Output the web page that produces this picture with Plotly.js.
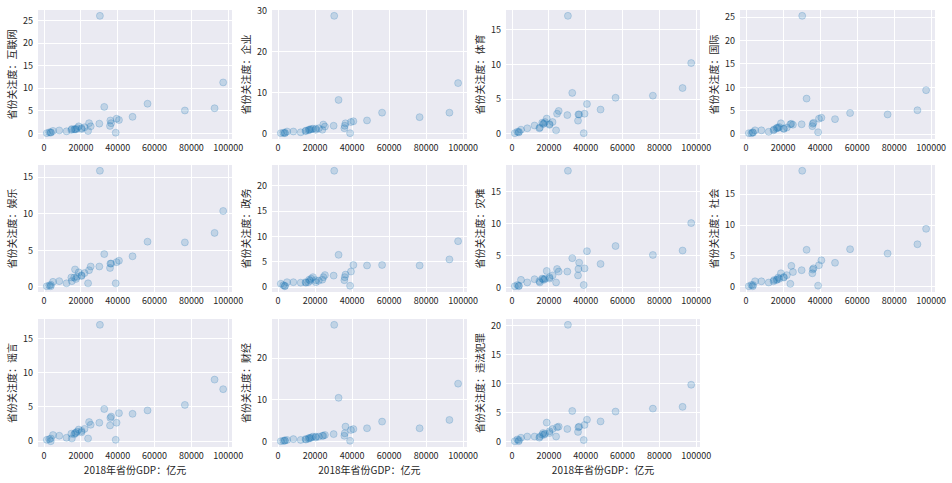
<!DOCTYPE html>
<html><head><meta charset="utf-8">
<script src="https://cdn.plot.ly/plotly-3.0.1.min.js"></script>
<style>html,body{margin:0;padding:0;background:#fff;}#chart{width:952px;height:483px;}</style>
</head><body><div id="chart"></div>
<script>
const provinces = ["广东","江苏","山东","浙江","河南","四川","湖北","台湾","湖南","河北","福建","上海","北京","安徽","辽宁","陕西","香港","江西","重庆","广西","天津","云南","内蒙古","山西","黑龙江","吉林","贵州","新疆","甘肃","海南","宁夏","澳门","青海","西藏"];
const gdp = [97278,92595,76470,56197,48056,40678,39367,38900,36426,36010,35804,32680,30320,30007,25315,24438,23900,21985,20363,20353,18810,17881,17289,16818,16362,15075,14806,12199,8246,4832,3705,3600,2865,1478];
const categories = ["互联网","企业","体育","国际","娱乐","政务","灾难","社会","谣言","财经","违法犯罪"];
const internet = [11.3,5.6,5.1,6.6,3.7,3.0,3.3,0.2,2.3,2.9,1.7,5.9,26.0,2.2,1.6,2.3,0.6,1.4,1.2,1.0,1.6,1.2,0.9,1.0,0.9,1.0,0.8,0.5,0.7,0.6,0.3,0.2,0.3,0.1];
const enterprise = [12.4,5.2,4.1,5.2,3.3,3.1,2.9,0.2,2.6,2.0,1.4,8.3,28.8,2.0,1.8,2.3,1.0,1.4,1.3,1.0,1.3,1.2,1.0,1.1,0.9,0.8,0.7,0.4,0.6,0.6,0.3,0.2,0.3,0.2];
const sports = [10.2,6.6,5.5,5.2,3.5,4.3,2.9,0.1,2.8,2.8,1.9,5.9,17.0,2.7,3.3,2.9,0.5,1.7,1.4,1.3,2.2,1.7,1.5,1.4,1.6,0.9,0.8,1.2,0.8,0.6,0.3,0.2,0.3,0.1];
const international = [9.4,5.1,4.2,4.5,3.2,3.5,3.3,0.4,2.4,2.2,1.7,7.6,25.3,2.1,2.0,2.2,2.1,1.4,1.1,1.2,2.3,1.5,1.3,1.4,1.2,1.0,0.8,0.5,0.8,0.8,0.3,0.4,0.2,0.2];
const entertainment = [10.4,7.4,6.1,6.2,4.2,3.6,3.4,0.5,3.2,3.2,2.6,4.5,15.9,2.8,2.8,2.3,0.5,1.9,1.6,1.5,2.0,1.4,1.1,2.4,1.3,0.8,1.3,0.5,0.8,0.7,0.3,0.1,0.2,0.1];
const government = [9.1,5.5,4.3,4.4,4.3,4.4,3.1,0.3,2.5,2.0,1.4,6.4,23.0,2.3,2.4,2.0,1.5,1.3,1.0,1.4,2.0,1.7,1.3,1.5,1.0,0.9,1.0,0.9,1.0,1.0,0.3,0.2,0.4,0.7];
const disaster = [10.1,5.8,5.1,6.5,3.7,5.7,3.0,0.4,3.9,2.9,1.9,4.6,18.3,2.5,2.5,2.9,0.8,1.9,1.6,1.4,2.6,1.4,1.2,1.3,1.4,0.8,1.0,1.3,0.8,1.2,0.3,0.2,0.4,0.2];
const society = [9.4,6.9,5.4,6.1,3.9,4.3,3.5,0.2,3.0,2.8,2.2,6.0,18.8,2.7,2.4,3.4,0.5,1.9,1.6,1.5,2.2,1.3,1.5,1.2,1.1,1.1,0.9,0.7,0.9,0.9,0.3,0.1,0.3,0.1];
const rumor = [7.6,9.0,5.3,4.5,4.0,4.1,2.7,0.2,3.6,3.4,2.3,4.7,17.0,2.7,2.4,2.8,0.4,1.8,1.5,1.3,1.7,1.4,1.2,1.2,1.0,0.4,1.1,0.5,0.8,0.9,0.4,0.0,0.3,0.2];
const finance = [13.9,5.2,3.2,4.8,3.2,3.0,2.8,0.2,3.6,2.0,1.4,10.5,28.0,1.8,1.6,1.4,1.4,1.2,1.2,1.0,1.2,1.0,0.8,0.9,0.7,0.5,0.6,0.4,0.6,0.4,0.3,0.2,0.2,0.1];
const crime = [9.8,6.0,5.7,5.2,3.5,3.8,2.9,0.3,2.6,2.5,1.7,5.3,20.1,2.2,2.6,2.5,0.9,2.2,1.8,1.5,3.3,1.4,1.2,1.5,1.2,0.9,0.7,0.9,0.9,0.7,0.3,0.1,0.4,0.1];
const series = [internet,enterprise,sports,international,entertainment,government,disaster,society,rumor,finance,crime];
const yDticks = [5,10,5,5,5,5,5,5,5,10,5];
const xTitle = "2018年省份GDP：亿元";
const yTitlePrefix = "省份关注度：";

const colDom = [[0.0399,0.2437],[0.2857,0.4905],[0.5315,0.7353],[0.7773,0.9821]];
const rowDom = [[0.7122,0.9793],[0.3954,0.6584],[0.0745,0.3395]];
const font = "Noto Sans CJK SC, DejaVu Sans, sans-serif";
function pad(arr){const mn=Math.min(...arr),mx=Math.max(...arr),s=mx-mn;return [mn-0.05*s,mx+0.05*s];}
const xr = pad(gdp);
const traces=[]; const layout={
  width:952,height:483,margin:{l:0,r:0,t:0,b:0},paper_bgcolor:"#fff",plot_bgcolor:"#EAEAF2",
  showlegend:false,font:{family:font,size:9,color:"#262626"}
};
series.forEach((ys,i)=>{
  const r=Math.floor(i/4), c=i%4, n=i+1;
  const xa = n===1?"x":"x"+n, ya = n===1?"y":"y"+n;
  traces.push({type:"scatter",mode:"markers",x:gdp,y:ys,text:provinces,xaxis:xa,yaxis:ya,
    marker:{size:7,color:"rgba(31,119,180,0.2)",line:{width:1,color:"rgba(31,119,180,0.22)"}},hoverinfo:"text+x+y"});
  const xk = n===1?"xaxis":"xaxis"+n, yk = n===1?"yaxis":"yaxis"+n;
  layout[xk]={domain:colDom[c],anchor:ya,range:xr,dtick:20000,tick0:0,showgrid:true,gridcolor:"#fff",gridwidth:1,
    zeroline:false,showline:false,ticks:"",tickfont:{size:9,family:font,color:"#262626"},tickformat:"d",ticklabelstandoff:2,
    title: r===2?{text:xTitle,font:{size:10,family:font,color:"#262626"},standoff:4}:{text:""}};
  layout[yk]={domain:rowDom[r],anchor:xa,range:pad(ys),dtick:yDticks[i],tick0:0,showgrid:true,gridcolor:"#fff",gridwidth:1,
    zeroline:false,showline:false,ticks:"",tickfont:{size:9,family:font,color:"#262626"},ticklabelstandoff:4,
    title:{text:yTitlePrefix+categories[i],font:{size:10,family:font,color:"#262626"},standoff:4}};
});
Plotly.newPlot("chart",traces,layout,{staticPlot:true});
</script></body></html>
